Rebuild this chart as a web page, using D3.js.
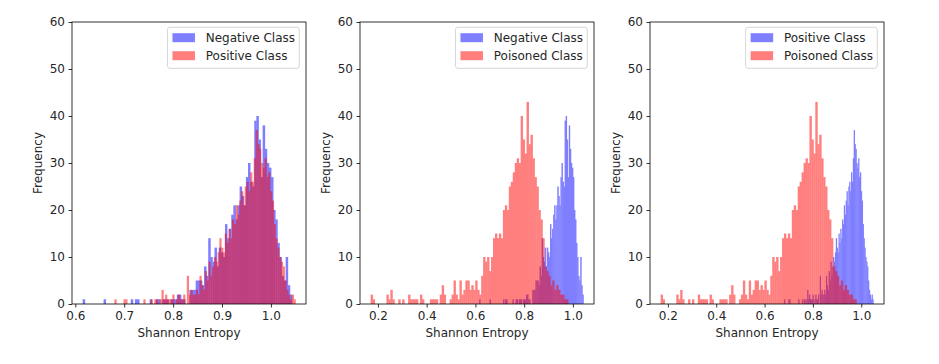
<!DOCTYPE html>
<html>
<head>
<meta charset="utf-8">
<script src="https://cdn.jsdelivr.net/npm/d3@7"></script>
<style>
  body { margin: 0; background: #fff; }
  text { font-family: "DejaVu Sans", sans-serif; fill: #262626; }
</style>
</head>
<body>
<div id="chart"></div>
<script>
// histogram counts, 100 bins each
const negativeRange = [0.615, 1.043];
const negativeCounts = [
  1, 0, 0, 0, 0, 0, 0, 0, 0, 0,
  1, 0, 0, 0, 0, 0, 0, 0, 0, 0,
  0, 0, 0, 1, 0, 1, 1, 0, 0, 0,
  0, 0, 1, 0, 0, 1, 1, 0, 1, 1,
  1, 0, 1, 1, 1, 2, 2, 1, 1, 0,
  0, 3, 3, 3, 5, 5, 5, 4, 8, 6,
  14, 10, 9, 12, 8, 12, 11, 10, 17, 14,
  16, 19, 21, 18, 21, 25, 23, 21, 27, 30,
  26, 25, 39, 40, 35, 27, 38, 33, 30, 29,
  27, 20, 18, 13, 10, 6, 5, 10, 4, 2
];

const positiveRange = [0.68, 1.05];
const positiveCounts = [
  1, 0, 0, 0, 0, 1, 1, 0, 0, 0,
  0, 0, 0, 0, 0, 0, 1, 0, 0, 0,
  1, 0, 1, 1, 0, 1, 3, 1, 2, 1,
  1, 1, 2, 0, 1, 2, 1, 1, 2, 0,
  6, 2, 3, 2, 2, 3, 2, 6, 4, 3,
  7, 5, 9, 6, 8, 10, 9, 11, 14, 12,
  11, 15, 13, 16, 14, 18, 17, 21, 19, 22,
  24, 21, 25, 26, 24, 28, 26, 31, 37, 34,
  33, 30, 29, 31, 27, 28, 24, 22, 17, 14,
  12, 10, 9, 8, 5, 3, 2, 1, 2, 1
];

const poisonedRange = [0.17, 0.98];
const poisonedCounts = [
  2, 1, 0, 0, 0, 0, 0, 0, 2, 1,
  3, 1, 0, 0, 1, 0, 1, 0, 0, 2,
  1, 1, 1, 1, 0, 2, 1, 0, 0, 0,
  1, 1, 1, 1, 0, 2, 4, 2, 0, 0,
  1, 2, 5, 2, 1, 5, 2, 3, 5, 5,
  3, 4, 3, 5, 3, 2, 6, 10, 9, 10,
  7, 10, 14, 15, 14, 15, 14, 20, 21, 20,
  25, 26, 28, 30, 31, 30, 40, 35, 32, 43,
  34, 36, 31, 27, 25, 20, 18, 14, 8, 7,
  6, 4, 5, 3, 4, 3, 2, 2, 1, 1
];

const xTicksFirst = [0.6, 0.7, 0.8, 0.9, 1.0];
const xTicksOther = [0.2, 0.4, 0.6, 0.8, 1.0];
const yTicks = [0, 10, 20, 30, 40, 50, 60];

const BLUE = "#0000ff";
const RED = "#ff0000";

function makeSeries(name, range, counts, color) {
  const w = (range[1] - range[0]) / counts.length;
  return {
    name, color, range,
    bins: counts.map((c, i) => ({ x0: range[0] + i * w, x1: range[0] + (i + 1) * w, n: c }))
  };
}

const panels = [
  { left: 72, ticks: xTicksFirst, series: [
      makeSeries("Negative Class", negativeRange, negativeCounts, BLUE),
      makeSeries("Positive Class", positiveRange, positiveCounts, RED)] },
  { left: 360, ticks: xTicksOther, series: [
      makeSeries("Negative Class", negativeRange, negativeCounts, BLUE),
      makeSeries("Poisoned Class", poisonedRange, poisonedCounts, RED)] },
  { left: 650, ticks: xTicksOther, series: [
      makeSeries("Positive Class", positiveRange, positiveCounts, BLUE),
      makeSeries("Poisoned Class", poisonedRange, poisonedCounts, RED)] }
];

const W = 939, H = 364;
const plotTop = 22, plotH = 282, plotW = 234;

const svg = d3.select("#chart").append("svg")
  .attr("width", W)
  .attr("height", H);

panels.forEach(p => {
  const g = svg.append("g").attr("transform", `translate(${p.left},${plotTop})`);

  // matplotlib style 5% margin around the data extent
  const lo = d3.min(p.series, s => s.range[0]);
  const hi = d3.max(p.series, s => s.range[1]);
  const pad = (hi - lo) * 0.05;

  const x = d3.scaleLinear().domain([lo - pad, hi + pad]).range([0, plotW]);
  const y = d3.scaleLinear().domain([0, 60]).range([plotH, 0]);

  // Bars - opaque rects in a half transparent group, slightly widened so no seams
  p.series.forEach(s => {
    g.append("g")
      .attr("opacity", 0.5)
      .selectAll("rect")
      .data(s.bins.filter(b => b.n > 0))
      .join("rect")
      .attr("x", b => x(b.x0))
      .attr("width", b => x(b.x1) - x(b.x0) + 0.4)
      .attr("y", b => y(b.n))
      .attr("height", b => y(0) - y(b.n))
      .attr("fill", s.color);
  });

  // Axes
  const xAxis = g.append("g")
    .attr("transform", `translate(0,${plotH})`)
    .call(d3.axisBottom(x).tickValues(p.ticks).tickFormat(d3.format(".1f")).tickSize(3.5).tickPadding(3.5));
  const yAxis = g.append("g")
    .call(d3.axisLeft(y).tickValues(yTicks).tickSize(3.5).tickPadding(3.5));

  [xAxis, yAxis].forEach(a => {
    a.select(".domain").remove();
    a.selectAll("line").attr("stroke", "#000").attr("stroke-width", 0.8);
    a.selectAll("text").attr("font-size", 12).attr("font-family", "DejaVu Sans").attr("fill", "#262626");
  });

  g.append("rect")
    .attr("width", plotW).attr("height", plotH)
    .attr("fill", "none").attr("stroke", "#000").attr("stroke-width", 0.8);

  // Labels
  g.append("text")
    .attr("x", plotW / 2).attr("y", plotH + 33)
    .attr("text-anchor", "middle").attr("font-size", 12)
    .text("Shannon Entropy");
  g.append("text")
    .attr("transform", `translate(-34.5,${plotH / 2}) rotate(-90)`)
    .attr("text-anchor", "middle").attr("dominant-baseline", "central")
    .attr("font-size", 12)
    .text("Frequency");

  // Legend
  const lg = g.append("g");
  const box = lg.append("rect")
    .attr("fill", "#fff").attr("fill-opacity", 0.8)
    .attr("stroke", "#cccccc").attr("stroke-width", 0.8).attr("rx", 2.5);
  let maxW = 0;
  p.series.forEach((s, i) => {
    const row = lg.append("g").attr("transform", `translate(0,${10.4 + i * 18})`);
    row.append("rect")
      .attr("x", 5).attr("y", -4.5).attr("width", 22.5).attr("height", 9)
      .attr("fill", s.color).attr("opacity", 0.5);
    const t = row.append("text")
      .attr("x", 38.3).attr("dominant-baseline", "central")
      .attr("font-size", 12)
      .text(s.name);
    maxW = Math.max(maxW, t.node().getComputedTextLength());
  });
  const boxW = 38.3 + maxW + 4.3;
  box.attr("width", boxW).attr("height", 41);
  lg.attr("transform", `translate(${plotW - 6.7 - boxW},5.3)`);
});
</script>
</body>
</html>
